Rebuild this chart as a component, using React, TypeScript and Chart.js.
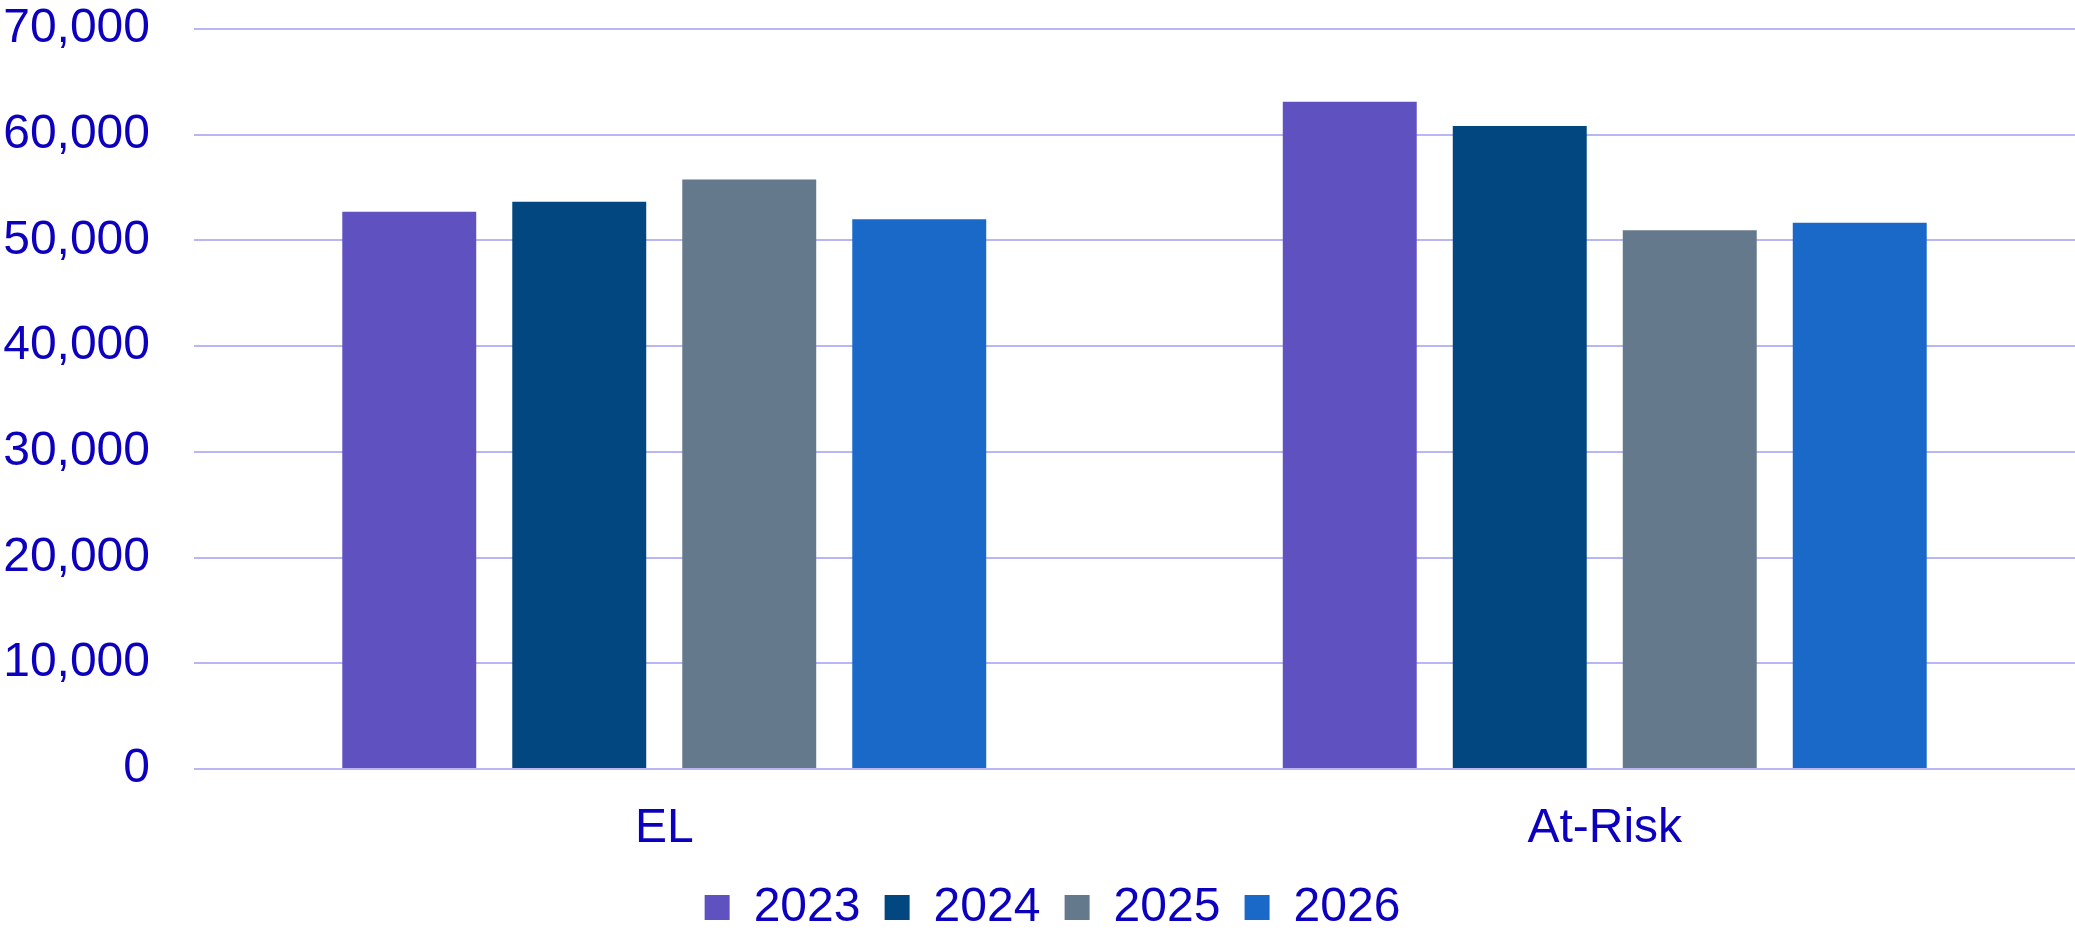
import React, { useEffect, useRef } from "react";
import { Chart, registerables } from "chart.js";

Chart.register(...registerables);

const categories = ["EL", "At-Risk"];
const seriesLabels = ["2023", "2024", "2025", "2026"];
const values2023 = [52700, 63100];
const values2024 = [53650, 60800];
const values2025 = [55750, 50950];
const values2026 = [52000, 51650];
const yTicks = [0, 10000, 20000, 30000, 40000, 50000, 60000, 70000];

const colors = ["#5F52C0", "#02477F", "#65798D", "#1A69C8"];
const textColor = "#0C00BE";
const gridColor = "#B8B6F6";
const fontFamily = "'Liberation Sans', Arial, sans-serif";

const legendShift = {
  id: "legendShift",
  afterLayout(chart: any) {
    const l = chart.legend;
    if (l) {
      l.left += 15;
      l.right += 15;
    }
  },
};

export default function App() {
  const ref = useRef<HTMLCanvasElement | null>(null);

  useEffect(() => {
    if (!ref.current) return;
    const seriesValues = [values2023, values2024, values2025, values2026];
    const chart = new Chart(ref.current, {
      type: "bar",
      data: {
        labels: categories,
        datasets: seriesLabels.map((label, i) => ({
          label,
          data: seriesValues[i],
          backgroundColor: colors[i],
          borderWidth: 0,
          categoryPercentage: 0.723,
          barPercentage: 0.788,
        })),
      },
      plugins: [legendShift],
      options: {
        responsive: false,
        animation: false,
        layout: { padding: { left: 0, right: 0, top: 0, bottom: -11.5 } },
        plugins: {
          legend: {
            position: "bottom",
            labels: {
              boxWidth: 25,
              boxHeight: 25,
              padding: 24.2,
              color: textColor,
              font: { family: fontFamily, size: 48 },
            },
          },
          tooltip: { enabled: false },
        },
        scales: {
          x: {
            grid: {
              display: true,
              drawOnChartArea: false,
              drawTicks: true,
              tickLength: 29.7,
              color: "rgba(0,0,0,0)",
              tickColor: "rgba(0,0,0,0)",
            },
            border: { display: false },
            ticks: {
              color: textColor,
              font: { family: fontFamily, size: 48, lineHeight: 1.2 },
              padding: 1.5,
            },
          },
          y: {
            min: 0,
            max: 70000,
            afterFit: (scale: any) => {
              scale.width = 194;
            },
            afterBuildTicks: (scale: any) => {
              scale.ticks = yTicks.map((v) => ({ value: v }));
            },
            grid: {
              color: gridColor,
              lineWidth: 2,
              drawTicks: true,
              tickLength: 44,
              tickColor: "rgba(0,0,0,0)",
            },
            border: { display: false },
            ticks: {
              color: textColor,
              padding: 0,
              font: { family: fontFamily, size: 48, lineHeight: 1.2 },
              callback: (v: any) => Number(v).toLocaleString("en-US"),
            },
          },
        },
      },
    });
    return () => chart.destroy();
  }, []);

  return (
    <div style={{ position: "absolute", left: 0, top: 0, width: 2075, height: 930, background: "#fff" }}>
      <canvas ref={ref} width={2075} height={930} style={{ display: "block" }} />
    </div>
  );
}
